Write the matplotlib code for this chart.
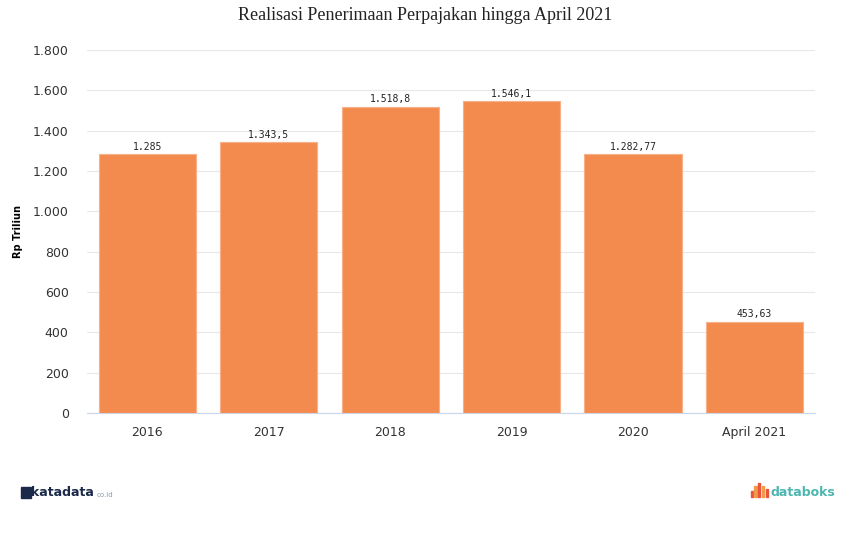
import matplotlib.pyplot as plt
import numpy as np
from matplotlib.patches import Rectangle

categories = ["2016", "2017", "2018", "2019", "2020", "April 2021"]
values = [1285, 1343.5, 1518.8, 1546.1, 1282.77, 453.63]
value_labels = ["1.285", "1.343,5", "1.518,8", "1.546,1", "1.282,77", "453,63"]
yticks = [0, 200, 400, 600, 800, 1000, 1200, 1400, 1600, 1800]
ytick_labels = ["0", "200", "400", "600", "800", "1.000", "1.200", "1.400", "1.600", "1.800"]

BAR = "#F38B4F"
GRID = "#E8E8E8"

fig = plt.figure(figsize=(8.5, 5.45), dpi=100)
ax = fig.add_axes([0.102, 0.242, 0.857, 0.666])

x = np.arange(len(categories))
ax.bar(x, values, width=0.8, color=BAR, edgecolor="#F7B089", linewidth=0.8, zorder=3)
for xi, v, lab in zip(x, values, value_labels):
    ax.text(xi, v + 12, lab, ha="center", va="bottom", fontsize=7, color="#222222",
            family="DejaVu Sans Mono")

ax.set_xlim(-0.5, len(categories) - 0.5)
ax.set_ylim(0, 1800)
ax.set_yticks(yticks)
ax.set_yticklabels(ytick_labels, fontsize=9, color="#333333")
ax.set_xticks(x)
ax.set_xticklabels(categories, fontsize=9, color="#333333")
ax.yaxis.grid(True, color=GRID, linewidth=0.8, zorder=0)
ax.tick_params(axis="y", length=0, pad=13)
ax.tick_params(axis="x", length=0, pad=9)
for side in ["top", "right", "left"]:
    ax.spines[side].set_visible(False)
ax.spines["bottom"].set_color("#CCD6EB")
ax.set_ylabel("Rp Triliun", fontsize=7, fontweight="bold")
ax.yaxis.set_label_coords(-0.088, 0.5)

fig.text(0.5, 0.972, "Realisasi Penerimaan Perpajakan hingga April 2021", ha="center",
         va="center", fontsize=13, family="Liberation Serif", color="#222222")

# katadata logo
fig.patches.append(Rectangle((0.025, 0.086), 0.011, 0.021, transform=fig.transFigure,
                             color="#1B2A4A"))
fig.text(0.037, 0.096, "katadata", fontsize=9, fontweight="bold", color="#1B2A4A",
         va="center", ha="left")
fig.text(0.114, 0.092, "co.id", fontsize=5, color="#8A96A8", va="center", ha="left")

# databoks logo
bar_cols = ["#E8553E", "#F29A48", "#E8553E", "#F29A48", "#E8553E"]
bar_h = [0.012, 0.02, 0.026, 0.02, 0.014]
for i, (c, h) in enumerate(zip(bar_cols, bar_h)):
    fig.patches.append(Rectangle((0.883 + i * 0.0045, 0.088), 0.0025, h,
                                 transform=fig.transFigure, color=c))
fig.text(0.906, 0.097, "databoks", fontsize=9, fontweight="bold", color="#4DB6B0",
         va="center", ha="left")

fig.savefig("out.png", dpi=100, facecolor="white")
